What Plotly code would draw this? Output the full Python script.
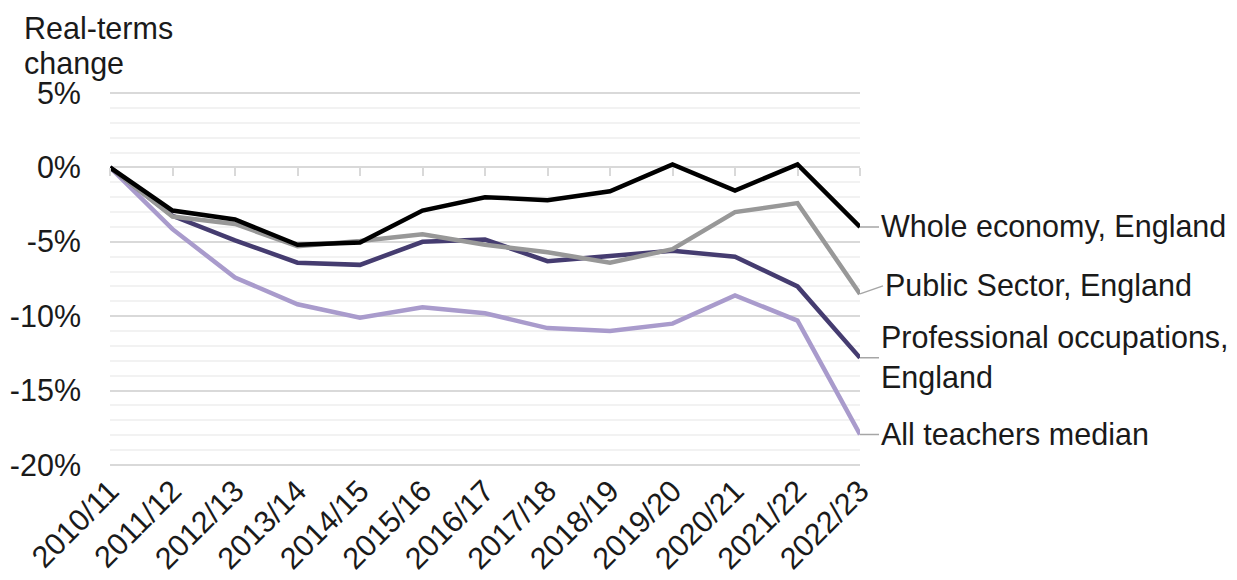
import plotly.graph_objects as go

years = ['2010/11', '2011/12', '2012/13', '2013/14', '2014/15', '2015/16', '2016/17',
         '2017/18', '2018/19', '2019/20', '2020/21', '2021/22', '2022/23']

whole_economy = [0, -2.9, -3.5, -5.2, -5.05, -2.9, -2.0, -2.2, -1.6, 0.2, -1.55, 0.2, -4.0]
public_sector = [0, -3.3, -3.8, -5.3, -4.95, -4.5, -5.2, -5.7, -6.4, -5.5, -3.0, -2.4, -8.5]
professional = [0, -3.25, -4.9, -6.4, -6.55, -5.0, -4.85, -6.3, -5.95, -5.6, -6.0, -8.0, -12.8]
teachers = [0, -4.15, -7.4, -9.2, -10.1, -9.4, -9.8, -10.8, -11.0, -10.5, -8.6, -10.3, -17.95]

series_names = ['Whole economy, England', 'Public Sector, England',
                'Professional occupations,<br>England', 'All teachers median']
series_values = [whole_economy, public_sector, professional, teachers]
colors = ['#000000', '#989898', '#453C70', '#A99BCC']

y_ticks = [5, 0, -5, -10, -15, -20]
y_labels = ['5%', '0%', '-5%', '-10%', '-15%', '-20%']

font = 'Liberation Sans, Arial, sans-serif'
text_col = '#1a1a1a'
fsize = 30.5
x_idx = list(range(len(years)))
last = len(years) - 1

# pad the y range a touch so the 5% and -20% gridlines are still drawn
y_lo, y_hi = -20.07, 5.07
zero_pos = (0 - y_lo) / (y_hi - y_lo)

fig = go.Figure()

# draw in reverse so the black line sits on top
for name, vals, col in reversed(list(zip(series_names, series_values, colors))):
    fig.add_trace(go.Scatter(
        x=x_idx, y=vals, mode='lines', name=name,
        line=dict(color=col, width=4.5),
        showlegend=False, hoverinfo='skip'
    ))

# dummy trace so the tick-mark axis at 0% gets drawn
fig.add_trace(go.Scatter(x=x_idx, y=[None] * len(x_idx), xaxis='x2',
                         showlegend=False, hoverinfo='skip'))

# end-of-line labels with short leader lines
for name, vals in zip(series_names, series_values):
    ay = -8 if name.startswith('Public') else 0
    fig.add_annotation(
        x=last, y=vals[-1], text=name, showarrow=True,
        ax=19 if ay == 0 else 23, ay=ay, arrowhead=0, arrowwidth=1.5,
        arrowcolor='#A6A6A6', xanchor='left', yanchor='middle', align='left',
        font=dict(family=font, size=fsize, color=text_col)
    )

# axis title, two lines at top-left
for line, top in [('Real-terms', 9), ('change', 44)]:
    fig.add_annotation(x=0, y=1 + (92 - top) / 374, xref='paper', yref='paper',
                       text=line, showarrow=False, xanchor='left', yanchor='top',
                       xshift=-88, font=dict(family=font, size=fsize, color=text_col))

fig.update_layout(
    width=1237, height=580,
    margin=dict(l=110, r=377, t=92, b=114),
    plot_bgcolor='white', paper_bgcolor='white',
    font=dict(family=font, size=fsize, color=text_col),
    xaxis=dict(
        range=[0, last], tickvals=x_idx, ticktext=years, tickangle=-45,
        showgrid=False, zeroline=False, showline=False, ticks='', automargin=False,
        tickfont=dict(family=font, size=fsize, color=text_col)
    ),
    xaxis2=dict(
        overlaying='x', anchor='free', position=zero_pos, side='bottom',
        range=[0, last], tickvals=x_idx, showticklabels=False, automargin=False,
        ticks='outside', ticklen=8, tickwidth=2, tickcolor='#D9D9D9',
        showgrid=False, zeroline=False, showline=False
    ),
    yaxis=dict(
        range=[y_lo, y_hi], tickvals=y_ticks, ticktext=y_labels, automargin=False,
        showgrid=True, gridcolor='#D9D9D9', gridwidth=2,
        zeroline=False, showline=False, ticks='', ticklabelstandoff=28,
        minor=dict(dtick=1, tick0=0, showgrid=True, gridcolor='#F2F2F2', gridwidth=2),
        tickfont=dict(family=font, size=fsize, color=text_col)
    ),
)

fig.write_html('out.html', config={'displayModeBar': False},
               post_script="document.body.style.margin='0';")
